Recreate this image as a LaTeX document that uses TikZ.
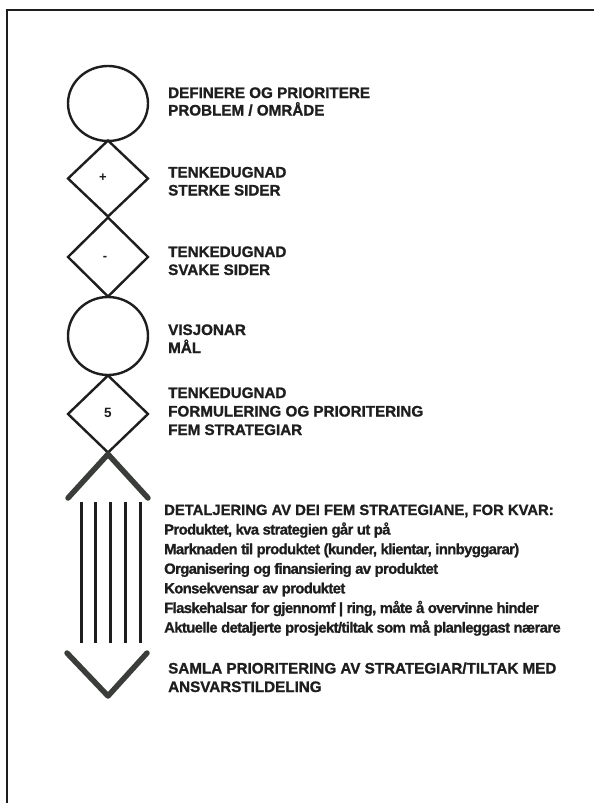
\documentclass[tikz,border=0pt]{standalone}
\usepackage{fontspec}
\setmainfont{Liberation Sans}
\newfontfamily\capsfont[FakeBold=1.2]{Liberation Sans}
\newfontfamily\bodyfont[FakeBold=1.2,LetterSpace=-4]{Liberation Sans}
\usetikzlibrary{shapes.geometric}
\definecolor{ink}{HTML}{1E1E1E}
\definecolor{thick}{HTML}{3A3D3A}
\begin{document}
\begin{tikzpicture}[x=1pt,y=-1pt,
  ring/.style={draw=ink,line width=2.4pt,ellipse,minimum width=80pt,minimum height=75pt,inner sep=0pt},
  rhomb/.style={draw=ink,line width=2.4pt,diamond,minimum width=81pt,inner sep=0pt},
  sign/.style={inner sep=0pt,text=ink,font=\bfseries\fontsize{13}{13}\selectfont},
  lbl/.style={anchor=base west,inner sep=0pt,text=ink,font=\capsfont\bfseries\fontsize{15.2}{16}\selectfont},
  body/.style={anchor=base west,inner sep=0pt,text=ink,font=\bodyfont\bfseries\fontsize{14.8}{16}\selectfont},
  bar/.style={draw=thick,line width=5.5pt,line cap=round,line join=round},
  stripe/.style={draw=ink,line width=3pt}]
\useasboundingbox (0,0) rectangle (594,803);
% frame
\draw[line width=2pt,ink] (594,10) -- (7,10) -- (7,803);
% shapes
\node[ring] (c1) at (108,103.5) {};
\node[rhomb,minimum height=77pt] (d1) at (108,178.5) {};
\node[rhomb,minimum height=80pt] (d2) at (108,257) {};
\node[ring,minimum height=78pt] (c2) at (108,336) {};
\node[rhomb,minimum height=78pt] (d3) at (108,414) {};
\node[sign] (m1) at (103,178) {+};
\node[sign] (m2) at (105,258) {-};
\node[sign,font=\bfseries\fontsize{13.5}{14}\selectfont] (m3) at (108,413) {5};
\coordinate (xl) at (68,498);
\coordinate (xr) at (148,498);
\draw[bar] (d3.south) -- (xl);
\draw[bar] (d3.south) -- (xr);
\foreach \i/\x in {1/81,2/95.5,3/110,4/125,5/140}{
  \coordinate (s\i t) at (\x,502);
  \coordinate (s\i b) at (\x,643);
  \draw[stripe] (s\i t) -- (s\i b);
}
\coordinate (vl) at (67,653);
\coordinate (vb) at (108,696);
\coordinate (vr) at (147,653);
\draw[bar] (vl) -- (vb) -- (vr);
% texts
\node[lbl] (t1a) at (168,98) {DEFINERE OG PRIORITERE};
\node[lbl] (t1b) at (168,115.5) {PROBLEM / OMRÅDE};
\node[lbl] (t2a) at (168,177.5) {TENKEDUGNAD};
\node[lbl] (t2b) at (168,195.5) {STERKE SIDER};
\node[lbl] (t3a) at (168,257) {TENKEDUGNAD};
\node[lbl] (t3b) at (168,275) {SVAKE SIDER};
\node[lbl] (t4a) at (168,335) {VISJONAR};
\node[lbl] (t4b) at (168,353) {MÅL};
\node[lbl] (t5a) at (168,398) {TENKEDUGNAD};
\node[lbl] (t5b) at (168,416.5) {FORMULERING OG PRIORITERING};
\node[lbl] (t5c) at (168,435) {FEM STRATEGIAR};
\node[lbl,font=\capsfont\bfseries\fontsize{14.8}{16}\selectfont] (t6a) at (164,515) {DETALJERING AV DEI FEM STRATEGIANE, FOR KVAR:};
\node[body] (t6b) at (164,534.6) {Produktet, kva strategien går ut på};
\node[body] (t6c) at (164,554.2) {Marknaden til produktet (kunder, klientar, innbyggarar)};
\node[body] (t6d) at (164,573.8) {Organisering og finansiering av produktet};
\node[body] (t6e) at (164,593.4) {Konsekvensar av produktet};
\node[body] (t6f) at (164,613) {Flaskehalsar for gjennomf | ring, måte å overvinne hinder};
\node[body] (t6g) at (164,632.6) {Aktuelle detaljerte prosjekt/tiltak som må planleggast nærare};
\node[lbl] (t7a) at (168,673.5) {SAMLA PRIORITERING AV STRATEGIAR/TILTAK MED};
\node[lbl] (t7b) at (168,692) {ANSVARSTILDELING};
\end{tikzpicture}
\end{document}
